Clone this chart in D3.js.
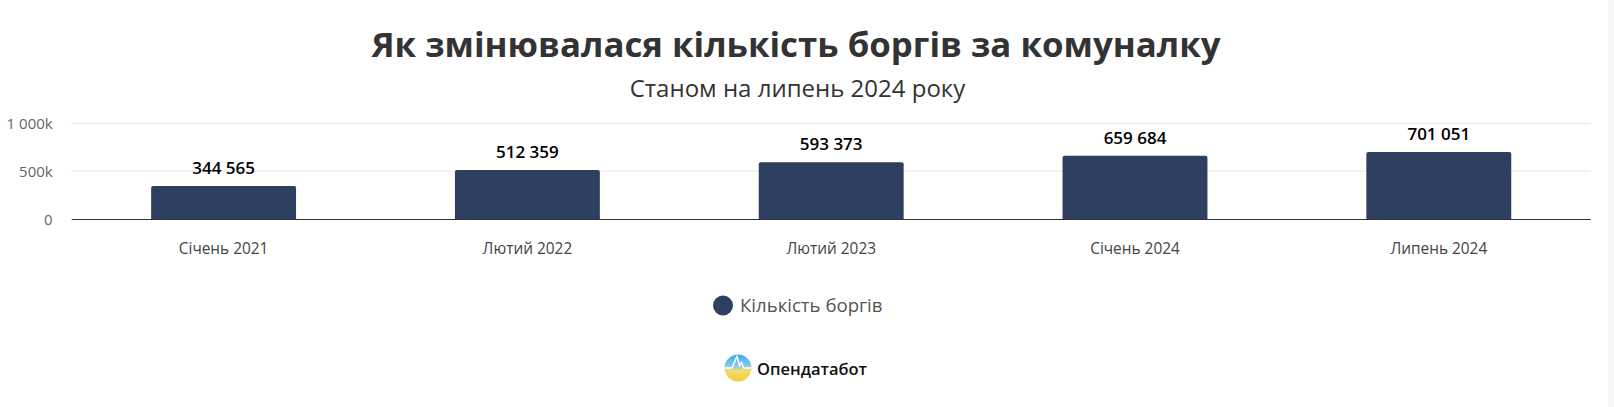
<!DOCTYPE html>
<html><head><meta charset="utf-8">
<script src="https://cdn.jsdelivr.net/npm/d3@7"></script>
<style>
html,body{margin:0;padding:0;background:#fff;overflow:hidden}
svg{display:block;font-family:"Open Sans","Noto Sans",sans-serif}
</style></head>
<body><svg id="chart" width="1614" height="407"></svg>
<script>
const categories = ["Січень 2021","Лютий 2022","Лютий 2023","Січень 2024","Липень 2024"];
const values = [344565, 512359, 593373, 659684, 701051];
const yTicks = [0, 500000, 1000000];
const seriesName = "Кількість боргів";
const titleText = "Як змінювалася кількість боргів за комуналку";
const subtitleText = "Станом на липень 2024 року";
const brandText = "Опендатабот";

(function(){
const svg = d3.select("#chart");
const W = 1614, H = 407;
const pL = 71.7, pR = 1590.7, pT = 123.3, pB = 219;
const barColor = "#2f3f5f";

// scrollbar strip
svg.append("rect").attr("x",1608).attr("y",0).attr("width",6).attr("height",H).attr("fill","#f5f6f8");

svg.append("text").attr("x",796).attr("y",56.5).attr("text-anchor","middle")
  .attr("font-size",34.8).attr("font-weight",700).attr("fill","#333").text(titleText);
svg.append("text").attr("x",797.5).attr("y",96.5).attr("text-anchor","middle")
  .attr("font-size",24).attr("fill","#333").text(subtitleText);

const x = d3.scaleBand().domain(categories).range([pL,pR]).paddingInner(0.523).paddingOuter(0.2615);
const y = d3.scaleLinear().domain([0,1000000]).range([pB,pT]);

// grid
svg.append("g").selectAll("line").data(yTicks.filter(d=>d>0)).join("line")
  .attr("x1",pL).attr("x2",pR).attr("y1",d=>y(d)).attr("y2",d=>y(d))
  .attr("stroke","#e6e6e6").attr("stroke-width",1);

// y axis labels
const fmtY = d => d===0 ? "0" : d3.format(",")(d/1000).replace(/,/g," ")+"k";
const yAxis = d3.axisLeft(y).tickValues(yTicks).tickFormat(fmtY).tickSize(0).tickPadding(0);
const gy = svg.append("g").attr("transform",`translate(${pL-19},0)`).call(yAxis);
gy.select(".domain").remove();
gy.selectAll("text").attr("font-size",15).attr("fill","#666").attr("font-family","Open Sans").attr("dy","0.35em");

// bars
svg.append("g").selectAll("path").data(values).join("path")
  .attr("d",(d,i)=>{
    const x0=x(categories[i]), w=x.bandwidth(), y0=y(d), r=2;
    return `M${x0},${pB}V${y0+r}Q${x0},${y0} ${x0+r},${y0}H${x0+w-r}Q${x0+w},${y0} ${x0+w},${y0+r}V${pB}Z`;
  }).attr("fill",barColor);

// baseline
const gx = svg.append("g").attr("transform",`translate(0,${pB})`)
  .call(d3.axisBottom(x).tickSize(0).tickPadding(0));
gx.select(".domain").attr("stroke","#333").attr("stroke-width",1.2).attr("d",`M${pL},0.5H${pR}`);
gx.selectAll("text").attr("font-size",15.4).attr("fill","#444").attr("font-family","Open Sans").attr("dy",0).attr("y",34.5);

// value labels
const fmtV = d => d3.format(",")(d).replace(/,/g," ");
svg.append("g").selectAll("text").data(values).join("text")
  .attr("x",(d,i)=>x(categories[i])+x.bandwidth()/2).attr("y",d=>y(d)-12)
  .attr("text-anchor","middle").attr("font-size",17).attr("font-weight",600).attr("fill","#000")
  .text(fmtV);

// legend
const lg = svg.append("g");
lg.append("circle").attr("cx",723).attr("cy",305.5).attr("r",10).attr("fill",barColor);
lg.append("text").attr("x",740).attr("y",312).attr("font-size",18.6).attr("fill","#555").text(seriesName);

// brand logo
const defs = svg.append("defs");
const gr = defs.append("linearGradient").attr("id","lg").attr("x1",0).attr("y1",0).attr("x2",0).attr("y2",1);
gr.append("stop").attr("offset","0%").attr("stop-color","#3fa9f0");
gr.append("stop").attr("offset","45%").attr("stop-color","#8ccbe8");
gr.append("stop").attr("offset","60%").attr("stop-color","#f3de6a");
gr.append("stop").attr("offset","100%").attr("stop-color","#f6c93a");
svg.append("circle").attr("cx",738).attr("cy",368).attr("r",13.5).attr("fill","url(#lg)");
svg.append("path").attr("d","M724.5,368 H732 L734.5,362 L737,356 L739.5,366 L741.5,362 L743.5,368 H751.5")
  .attr("fill","none").attr("stroke","#fff").attr("stroke-width",1.4).attr("stroke-linejoin","round");
svg.append("text").attr("x",757).attr("y",374.5).attr("font-size",16.5).attr("font-weight",600).attr("fill","#111").text(brandText);
})();
</script></body></html>
